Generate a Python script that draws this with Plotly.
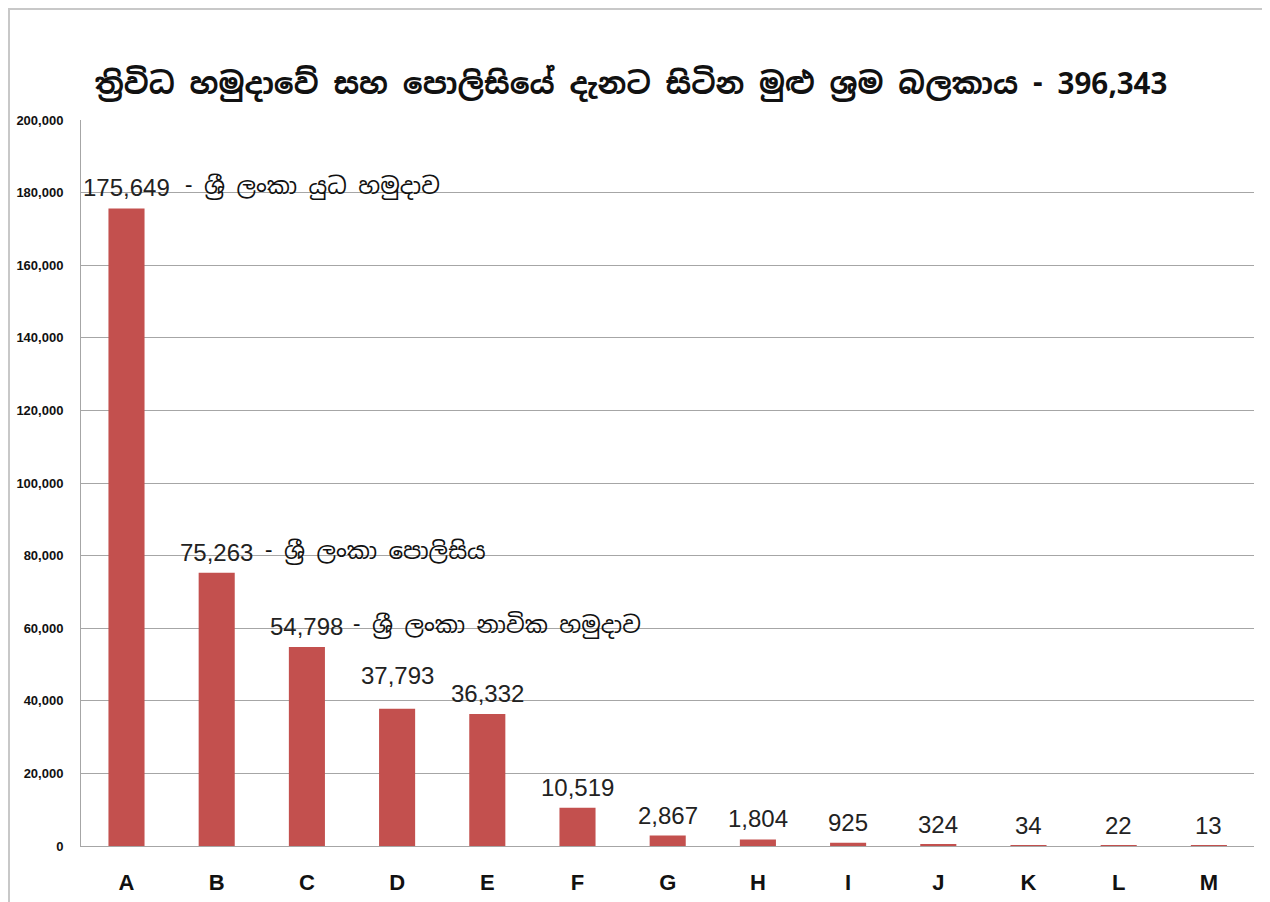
import plotly.graph_objects as go

# ---- data ----
categories = ["A", "B", "C", "D", "E", "F", "G", "H", "I", "J", "K", "L", "M"]
values = [175649, 75263, 54798, 37793, 36332, 10519, 2867, 1804, 925, 324, 34, 22, 13]
suffixes = ["- ශ්‍රී ලංකා යුධ හමුදාව", "- ශ්‍රී ලංකා පොලිසිය", "- ශ්‍රී ලංකා නාවික හමුදාව",
            "", "", "", "", "", "", "", "", "", ""]
title_text = "ත්‍රිවිධ හමුදාවේ සහ පොලිසියේ දැනට සිටින මුළු ශ්‍රම බලකාය - 396,343"
y_ticks = [0, 20000, 40000, 60000, 80000, 100000, 120000, 140000, 160000, 180000, 200000]

# ---- style ----
BAR = "#C3504E"
GRID = "#A6A6A6"
LABEL_FONT = "Liberation Sans, Arial, Noto Sans Sinhala, sans-serif"
SIN_FONT = "Noto Sans Sinhala, Iskoola Pota, Liberation Sans, sans-serif"
label_extra_shift = {3: 13}      # D label lifted above E label
suffix_xshift = {0: 56, 1: 46, 2: 44}

# figure is placed at an 8px page offset
W, H = 1262, 894
L, R, T, B = 73, 16, 112, 56
PW, PH = W - L - R, H - T - B

fig = go.Figure()
fig.add_trace(go.Bar(x=categories, y=values, marker=dict(color=BAR, line=dict(width=0)),
                     hoverinfo="x+y"))

annotations = []
for i, (c, v) in enumerate(zip(categories, values)):
    ys = 5 + label_extra_shift.get(i, 0)
    annotations.append(dict(x=c, y=v, xref="x", yref="y", text=f"{v:,}", showarrow=False,
                            xanchor="center", yanchor="bottom", yshift=ys,
                            font=dict(family=LABEL_FONT, size=24, color="#222222")))
    if suffixes[i]:
        annotations.append(dict(x=c, y=v, xref="x", yref="y", text=suffixes[i], showarrow=False,
                                xanchor="left", yanchor="bottom", yshift=ys,
                                xshift=suffix_xshift.get(i, 40),
                                font=dict(family=SIN_FONT, size=23, color="#111111")))

fig.update_layout(
    width=W, height=H,
    margin=dict(l=L, r=R, t=T, b=B, autoexpand=False),
    paper_bgcolor="white", plot_bgcolor="white",
    showlegend=False,
    bargap=0.6,
    title=dict(text=f"<b>{title_text}</b>", x=(623 - L) / PW, xanchor="center", xref="paper",
               y=1 - 76 / H, yanchor="middle", yref="container",
               font=dict(family=SIN_FONT, size=29.5, color="#111111")),
    annotations=annotations,
    xaxis=dict(showgrid=False, showline=True, linecolor=GRID, linewidth=1, automargin=False,
               ticks="", tickfont=dict(family="Liberation Sans, Arial", size=22, color="#111111",
                                       weight="bold"),
               ticklabelstandoff=17, fixedrange=True),
    yaxis=dict(range=[0, 200000], tickvals=y_ticks, tickformat=",d", automargin=False,
               showgrid=True, gridcolor=GRID, gridwidth=1,
               showline=True, linecolor=GRID, linewidth=1, zeroline=False,
               ticks="", tickfont=dict(family="Liberation Sans, Arial", size=13, color="#111111",
                                       weight="bold"),
               ticklabelstandoff=14, fixedrange=True),
    shapes=[dict(type="rect", xref="paper", yref="paper",
                 x0=(1 - L) / PW, x1=(1260 - L) / PW,
                 y0=-0.2, y1=(PH + T - 1) / PH,
                 line=dict(color="#C8C8C8", width=2), fillcolor="rgba(0,0,0,0)", layer="below")],
)

fig.write_html("out.html")
